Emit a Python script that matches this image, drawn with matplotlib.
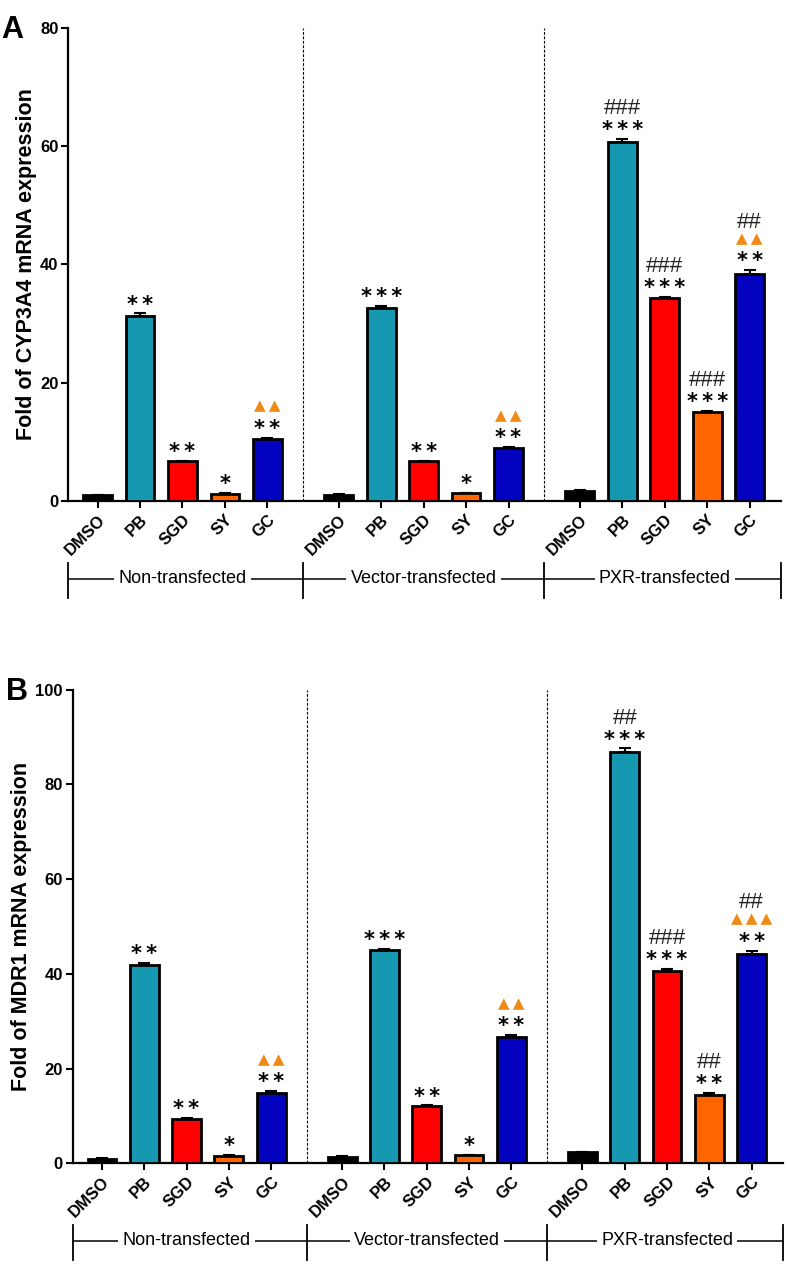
import numpy as np
import matplotlib
matplotlib.use("Agg")
import matplotlib.pyplot as plt

plt.rcParams["font.family"] = ["Liberation Sans", "DejaVu Sans"]

# ---- data ----
treatments = ["DMSO", "PB", "SGD", "SY", "GC"]
groups = ["Non-transfected", "Vector-transfected", "PXR-transfected"]
bar_colors = ["#000000", "#1598B0", "#FF0000", "#FF6600", "#0303BF"]

cyp3a4_mean = [
    [1.0, 31.3, 6.7, 1.2, 10.5],
    [1.1, 32.6, 6.7, 1.3, 9.0],
    [1.7, 60.6, 34.3, 15.1, 38.4],
]
cyp3a4_err = [
    [0.1, 0.4, 0.1, 0.1, 0.2],
    [0.1, 0.3, 0.1, 0.1, 0.1],
    [0.1, 0.6, 0.2, 0.1, 0.6],
]
cyp3a4_sig = [
    [[], ["**"], ["**"], ["*"], ["**", "▲▲"]],
    [[], ["***"], ["**"], ["*"], ["**", "▲▲"]],
    [[], ["***", "###"], ["***", "###"], ["***", "###"], ["**", "▲▲", "##"]],
]

mdr1_mean = [
    [1.0, 41.8, 9.3, 1.6, 14.9],
    [1.4, 45.0, 12.1, 1.7, 26.6],
    [2.3, 86.9, 40.7, 14.5, 44.2],
]
mdr1_err = [
    [0.1, 0.5, 0.2, 0.1, 0.3],
    [0.1, 0.2, 0.1, 0.1, 0.4],
    [0.1, 0.7, 0.3, 0.4, 0.7],
]
mdr1_sig = [
    [[], ["**"], ["**"], ["*"], ["**", "▲▲"]],
    [[], ["***"], ["**"], ["*"], ["**", "▲▲"]],
    [[], ["***", "##"], ["***", "###"], ["**", "##"], ["**", "▲▲▲", "##"]],
]

GROUP_START = [0.0, 5.68, 11.36]
XLIM = (-0.69, 16.1)
THIN = "\u2009"


def sig_style(txt):
    # (text to draw, fontsize, family, weight, color, baseline shift in pt)
    if "*" in txt:
        return THIN.join(txt), 15, ["DejaVu Sans"], "bold", "black", -8.9
    if "▲" in txt:
        return THIN.join(txt), 11, ["DejaVu Sans"], "normal", "#F08A16", -4.0
    return txt, 16, ["Liberation Sans"], "normal", "#222222", -5.6


def draw_panel(ax, means, errs, sigs, ylabel, ymax, letter):
    ticks, labels = [], []
    for g in range(3):
        x = GROUP_START[g] + np.arange(len(treatments))
        ax.bar(x, means[g], width=0.68, color=bar_colors, edgecolor="black",
               linewidth=2.0, zorder=3)
        ax.errorbar(x, means[g], yerr=[np.zeros(5), errs[g]], fmt="none",
                    ecolor="black", elinewidth=1.5, capsize=4.5, capthick=1.5,
                    zorder=2)
        for xi, m, e, lines in zip(x, means[g], errs[g], sigs[g]):
            for k, txt in enumerate(lines):
                s, fs, fam, fw, col, shift = sig_style(txt)
                ax.annotate(s, xy=(xi, m + e), xytext=(0, 11 + 12.5 * k + shift),
                            textcoords="offset points", ha="center", va="baseline",
                            fontsize=fs, family=fam, fontweight=fw, color=col,
                            zorder=4)
        ticks.extend(x)
        labels.extend(treatments)

    # dashed separators between groups
    seps = [(GROUP_START[g] + 4 + GROUP_START[g + 1]) / 2 for g in range(2)]
    for s in seps:
        ax.axvline(s, color="black", lw=0.8, ls=(0, (2.5, 1.5)), zorder=1)

    ax.set_xlim(*XLIM)
    ax.set_ylim(0, ymax)
    ax.set_yticks(np.arange(0, ymax + 1, 20))
    ax.set_xticks(ticks)
    ax.set_xticklabels(labels, rotation=45, ha="right", rotation_mode="anchor",
                       fontsize=12, fontweight="bold")
    for lab in ax.get_yticklabels():
        lab.set_fontweight("bold")
        lab.set_fontsize(12)
    ax.tick_params(axis="x", length=5, width=1.5, pad=3)
    ax.tick_params(axis="y", length=5, width=1.5, pad=2)
    ax.spines["top"].set_visible(False)
    ax.spines["right"].set_visible(False)
    ax.spines["left"].set_linewidth(1.6)
    ax.spines["bottom"].set_linewidth(1.6)
    ax.set_ylabel(ylabel, fontsize=15.5, fontweight="bold", labelpad=2.5)

    # group bracket under the tick labels
    trans = ax.get_xaxis_transform()
    edges = [XLIM[0]] + seps + [XLIM[1]]
    ax.plot([XLIM[0], XLIM[1]], [-0.164, -0.164], color="black", lw=1.1,
            transform=trans, clip_on=False)
    for e in edges:
        ax.plot([e, e], [-0.131, -0.205], color="black", lw=1.3,
                transform=trans, clip_on=False)
    for g, name in enumerate(groups):
        ax.text(GROUP_START[g] + 2, -0.164, name, transform=trans, ha="center",
                va="center", fontsize=13,
                bbox=dict(facecolor="white", edgecolor="none", pad=3))

    ax.figure.text(ax.get_position().x0 - 0.085, ax.get_position().y1 - 0.002,
                   letter, fontsize=22, fontweight="bold", va="center")


fig = plt.figure(figsize=(7.87, 12.64), dpi=100)
ax_a = fig.add_axes([0.0868, 0.6036, 0.9056, 0.3745])
ax_b = fig.add_axes([0.0924, 0.0797, 0.9025, 0.3746])

draw_panel(ax_a, cyp3a4_mean, cyp3a4_err, cyp3a4_sig,
           "Fold of CYP3A4 mRNA expression", 80, "A")
draw_panel(ax_b, mdr1_mean, mdr1_err, mdr1_sig,
           "Fold of MDR1 mRNA expression", 100, "B")

fig.savefig("out.png", dpi=100)
